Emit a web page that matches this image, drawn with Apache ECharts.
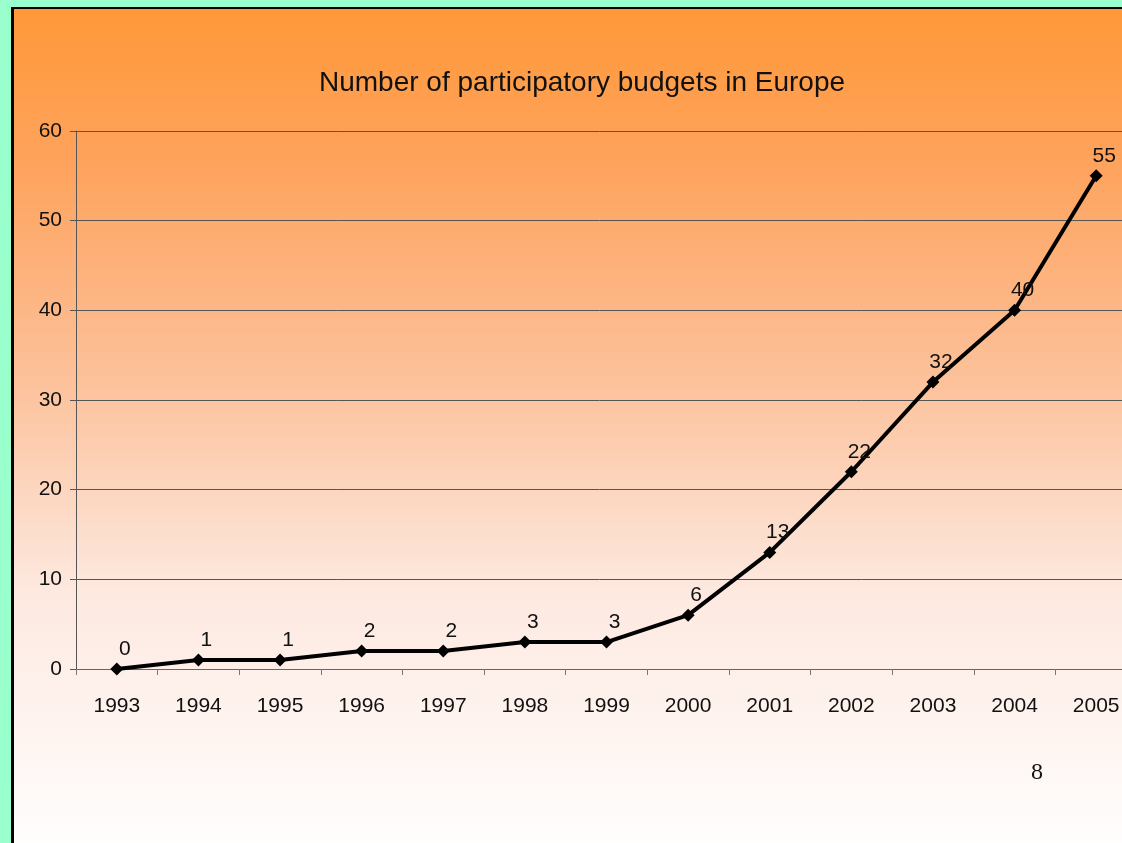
<!DOCTYPE html>
<html>
<head>
  <meta charset="UTF-8">
  <script src="https://cdn.jsdelivr.net/npm/echarts@6/dist/echarts.min.js"></script>
  <style>
    html, body { margin: 0; padding: 0; background: #99ffcc; }
    #main { width: 1122px; height: 843px; }
  </style>
</head>
<body>
  <div id="main"></div>
  <script>
    // data
    var years = ['1993', '1994', '1995', '1996', '1997', '1998', '1999', '2000', '2001', '2002', '2003', '2004', '2005'];
    var budgets = [0, 1, 1, 2, 2, 3, 3, 6, 13, 22, 32, 40, 55];
    var yTicks = [0, 10, 20, 30, 40, 50, 60];

    var myChart = echarts.init(document.getElementById('main'));

    myChart.setOption({
      backgroundColor: '#99ffcc',
      animation: false,
      textStyle: { fontFamily: 'Liberation Sans, Arial, sans-serif' },
      graphic: [
        // slide background + dark frame edge
        {
          type: 'rect', z: -10,
          shape: { x: 11, y: 7, width: 1111, height: 836 },
          style: { fill: '#000' }
        },
        {
          type: 'rect', z: -9,
          shape: { x: 14, y: 9, width: 1108, height: 834 },
          style: {
            fill: new echarts.graphic.LinearGradient(0, 0, 0, 1, [
              { offset: 0, color: '#ff9838' },
              { offset: 0.2, color: '#fea460' },
              { offset: 0.45, color: '#fcc29c' },
              { offset: 0.7, color: '#fde9e0' },
              { offset: 1, color: '#fffdfd' }
            ])
          }
        },
        {
          type: 'text',
          left: 1031, top: 761,
          style: { text: '8', fontSize: 24, fontFamily: 'Liberation Serif, serif', fill: '#111' }
        }
      ],
      title: {
        text: 'Number of participatory budgets in Europe',
        left: 314, top: 64,
        textStyle: { fontSize: 28, fontWeight: 'normal', color: '#111', fontFamily: 'Liberation Sans, Arial, sans-serif' }
      },
      // the slide crops the plot on the right, so the grid runs past the canvas
      grid: { left: 76, top: 131, width: 1061, height: 538, outerBoundsMode: 'none', containLabel: false },
      xAxis: {
        type: 'category',
        data: years,
        boundaryGap: true,
        axisLine: { lineStyle: { color: '#666', width: 1 } },
        axisTick: { show: true, length: 6, lineStyle: { color: '#777' } },
        axisLabel: { fontSize: 21, color: '#111', margin: 27 },
        splitLine: { show: false }
      },
      yAxis: {
        type: 'value',
        min: yTicks[0],
        max: yTicks[yTicks.length - 1],
        interval: 10,
        axisLine: { show: true, lineStyle: { color: '#555', width: 1 } },
        axisTick: { show: true, length: 6, lineStyle: { color: '#555' } },
        axisLabel: { fontSize: 21, color: '#111', margin: 14 },
        splitLine: { lineStyle: { color: '#555', width: 1 } }
      },
      series: [{
        type: 'line',
        data: budgets,
        symbol: 'diamond',
        symbolSize: 13,
        showAllSymbol: true,
        lineStyle: { color: '#000', width: 4 },
        itemStyle: { color: '#000' },
        label: {
          show: true,
          position: 'top',
          distance: 5,
          offset: [8, 2],
          fontSize: 21,
          color: '#111'
        }
      }]
    });
  </script>
</body>
</html>
